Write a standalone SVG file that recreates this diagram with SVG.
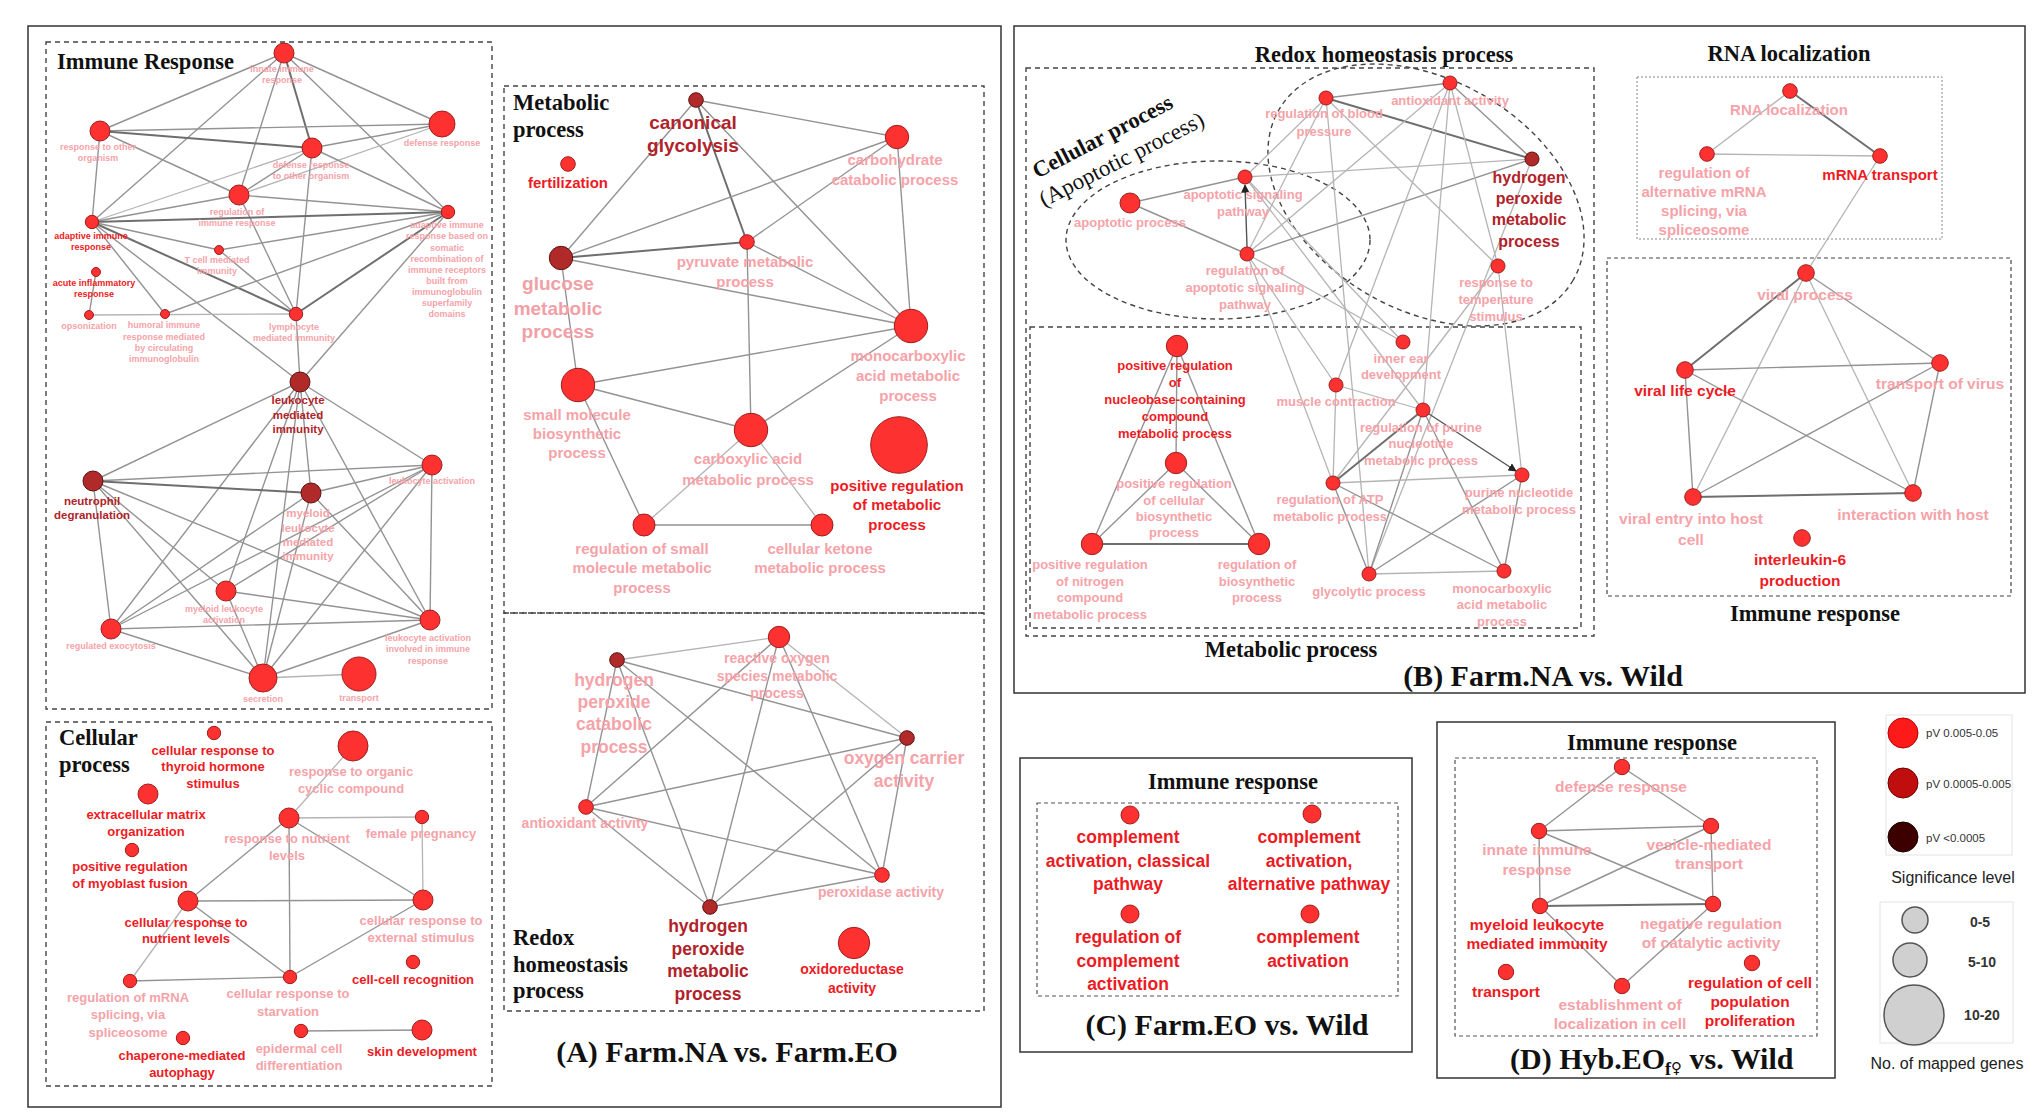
<svg xmlns="http://www.w3.org/2000/svg" width="2034" height="1117" viewBox="0 0 2034 1117">
<style>
text{font-family:"Liberation Sans",Arial,sans-serif;font-weight:bold;text-anchor:middle;dominant-baseline:central}
.t{font-family:"Liberation Serif","Times New Roman",serif;font-weight:bold;fill:#111;dominant-baseline:auto}
.ts{text-anchor:start}
.tn{font-weight:normal}
.lp{fill:#f5a3a9}.lr{fill:#ec1b24}.ld{fill:#b1232a}
.n{fill:#fe3131;stroke:#9e1e1e;stroke-width:1}
.d{fill:#b02a2a;stroke:#5c1212;stroke-width:1}
#connectors line{stroke:#939393;stroke-width:1.4}
#connectors line.k{stroke:#6e6e6e;stroke-width:2}
#connectors line.l{stroke:#b4b4b4;stroke-width:1.3}
.box{fill:none;stroke:#333;stroke-width:1.5}
.dash{fill:none;stroke:#444;stroke-width:1.4;stroke-dasharray:5 4}
.dot{fill:none;stroke:#888;stroke-width:1;stroke-dasharray:2 2}
.lg{font-family:"Liberation Sans",Arial,sans-serif;font-weight:normal;fill:#333;text-anchor:start}
.lgc{font-family:"Liberation Sans",Arial,sans-serif;font-weight:normal;fill:#222;text-anchor:middle}
.lgb{font-family:"Liberation Sans",Arial,sans-serif;font-weight:bold;fill:#333;text-anchor:middle}
.f9{font-size:9px}.f11{font-size:11.5px}.f13{font-size:13px}.f14{font-size:14px}.f15{font-size:15px}.f155{font-size:15.5px}.f16{font-size:16px}.f175{font-size:17.5px}.f19{font-size:19px}
</style>
<defs>
<marker id="arr" viewBox="0 0 10 10" refX="9" refY="5" markerWidth="6" markerHeight="6" orient="auto"><path d="M0,0 L10,5 L0,10 z" fill="#222"/></marker>
</defs>
<rect width="2034" height="1117" fill="#fff"/>

<g id="frames">
<rect class="box" x="28" y="26" width="973" height="1081"/>
<rect class="box" x="1014" y="26" width="1011" height="667"/>
<rect class="box" x="1020" y="758" width="392" height="294"/>
<rect class="box" x="1437" y="722" width="398" height="356"/>
<rect class="dash" x="46" y="42" width="446" height="667"/>
<rect class="dash" x="46" y="722" width="446" height="364"/>
<rect class="dash" x="504" y="86" width="480" height="527"/>
<rect class="dash" x="504" y="613" width="480" height="398"/>
<rect class="dash" x="1026" y="68" width="568" height="568"/>
<rect class="dash" x="1030" y="327" width="551" height="301"/>
<rect class="dot" x="1637" y="77" width="305" height="162"/>
<rect class="dash" x="1607" y="258" width="404" height="338" style="stroke-dasharray:4 3;stroke-width:1.2"/>
<rect class="dash" x="1037" y="803" width="361" height="193" style="stroke-dasharray:4 3;stroke-width:1.2;stroke:#555"/>
<rect class="dash" x="1455" y="758" width="362" height="278" style="stroke-dasharray:4 3;stroke-width:1.2;stroke:#555"/>
<ellipse class="dash" cx="1218" cy="240" rx="152" ry="79"/>
<ellipse class="dash" cx="1426" cy="195" rx="170" ry="115" transform="rotate(30 1426 195)"/>
<rect x="1886" y="715" width="126" height="140" fill="none" stroke="#e4e4e4"/>
<rect x="1880" y="902" width="133" height="141" fill="none" stroke="#e4e4e4"/>
</g>

<g id="titles">
<text class="t ts" x="57" y="69" font-size="22.5">Immune Response</text>
<text class="t ts" x="59" y="745" font-size="22.5">Cellular<tspan x="59" y="772">process</tspan></text>
<text class="t ts" x="513" y="110" font-size="22.5">Metabolic<tspan x="513" y="137">process</tspan></text>
<text class="t ts" x="513" y="945" font-size="22.5">Redox<tspan x="513" y="972">homeostasis</tspan><tspan x="513" y="998">process</tspan></text>
<text class="t" x="727" y="1062" font-size="30">(A) Farm.NA vs. Farm.EO</text>
<text class="t" x="1384" y="62" font-size="22.5">Redox homeostasis process</text>
<text class="t" x="1291" y="657" font-size="22.5">Metabolic process</text>
<text class="t" x="1789" y="61" font-size="22.5">RNA localization</text>
<text class="t" x="1815" y="621" font-size="22.5">Immune response</text>
<text class="t" x="1543" y="686" font-size="30">(B) Farm.NA vs. Wild</text>
<text class="t" x="1106" y="143" font-size="22.5" transform="rotate(-27.5 1106 143)">Cellular process</text>
<text class="t tn" x="1125" y="166" font-size="23" transform="rotate(-27 1125 166)">(Apoptotic process)</text>
<text class="t" x="1233" y="789" font-size="22.5">Immune response</text>
<text class="t" x="1227" y="1035" font-size="30">(C) Farm.EO vs. Wild</text>
<text class="t" x="1652" y="750" font-size="22.5">Immune response</text>
<text class="t ts" x="1510" y="1069" font-size="30">(D) Hyb.EO<tspan font-size="18" dy="6">f</tspan><tspan font-size="15" font-family="DejaVu Sans" font-weight="normal" dy="-2">♀</tspan><tspan font-size="30" dy="-4"> vs. Wild</tspan></text>
</g>

<g id="connectors">
<line x1="284" y1="53" x2="100" y2="131"/>
<line x1="284" y1="53" x2="442" y2="124"/>
<line class="k" x1="284" y1="53" x2="312" y2="148"/>
<line x1="284" y1="53" x2="239" y2="195"/>
<line x1="284" y1="53" x2="92" y2="222"/>
<line x1="284" y1="53" x2="448" y2="212"/>
<line x1="100" y1="131" x2="442" y2="124"/>
<line class="k" x1="100" y1="131" x2="312" y2="148"/>
<line x1="100" y1="131" x2="239" y2="195"/>
<line x1="100" y1="131" x2="92" y2="222"/>
<line x1="442" y1="124" x2="312" y2="148"/>
<line class="l" x1="442" y1="124" x2="239" y2="195"/>
<line x1="312" y1="148" x2="239" y2="195"/>
<line class="l" x1="312" y1="148" x2="92" y2="222"/>
<line x1="312" y1="148" x2="448" y2="212"/>
<line x1="312" y1="148" x2="296" y2="314"/>
<line x1="239" y1="195" x2="92" y2="222"/>
<line x1="239" y1="195" x2="448" y2="212"/>
<line x1="239" y1="195" x2="296" y2="314"/>
<line class="k" x1="92" y1="222" x2="448" y2="212"/>
<line x1="92" y1="222" x2="219" y2="250"/>
<line class="k" x1="92" y1="222" x2="296" y2="314"/>
<line x1="92" y1="222" x2="165" y2="314"/>
<line x1="92" y1="222" x2="300" y2="382"/>
<line x1="219" y1="250" x2="448" y2="212"/>
<line x1="219" y1="250" x2="296" y2="314"/>
<line class="k" x1="448" y1="212" x2="296" y2="314"/>
<line x1="448" y1="212" x2="165" y2="314"/>
<line x1="448" y1="212" x2="300" y2="382"/>
<line x1="89" y1="315" x2="96" y2="272"/>
<line class="l" x1="89" y1="315" x2="296" y2="314"/>
<line x1="296" y1="314" x2="300" y2="382"/>
<line x1="300" y1="382" x2="93" y2="481"/>
<line x1="300" y1="382" x2="432" y2="465"/>
<line x1="300" y1="382" x2="311" y2="493"/>
<line x1="300" y1="382" x2="226" y2="591"/>
<line x1="300" y1="382" x2="111" y2="629"/>
<line x1="300" y1="382" x2="263" y2="678"/>
<line x1="300" y1="382" x2="430" y2="620"/>
<line x1="93" y1="481" x2="432" y2="465"/>
<line class="k" x1="93" y1="481" x2="311" y2="493"/>
<line x1="93" y1="481" x2="111" y2="629"/>
<line x1="93" y1="481" x2="226" y2="591"/>
<line x1="93" y1="481" x2="263" y2="678"/>
<line x1="93" y1="481" x2="430" y2="620"/>
<line x1="432" y1="465" x2="311" y2="493"/>
<line x1="432" y1="465" x2="226" y2="591"/>
<line x1="432" y1="465" x2="111" y2="629"/>
<line x1="432" y1="465" x2="430" y2="620"/>
<line x1="432" y1="465" x2="263" y2="678"/>
<line x1="311" y1="493" x2="111" y2="629"/>
<line x1="311" y1="493" x2="430" y2="620"/>
<line x1="311" y1="493" x2="263" y2="678"/>
<line x1="226" y1="591" x2="430" y2="620"/>
<line x1="226" y1="591" x2="263" y2="678"/>
<line x1="111" y1="629" x2="430" y2="620"/>
<line x1="111" y1="629" x2="263" y2="678"/>
<line x1="430" y1="620" x2="263" y2="678"/>
<line class="l" x1="263" y1="678" x2="359" y2="674"/>

<line class="l" x1="353" y1="746" x2="289" y2="818"/>
<line class="l" x1="289" y1="818" x2="422" y2="817"/>
<line x1="289" y1="818" x2="188" y2="901"/>
<line x1="289" y1="818" x2="423" y2="900"/>
<line x1="289" y1="818" x2="290" y2="977"/>
<line class="l" x1="422" y1="817" x2="423" y2="900"/>
<line x1="188" y1="901" x2="423" y2="900"/>
<line x1="188" y1="901" x2="290" y2="977"/>
<line class="l" x1="188" y1="901" x2="130" y2="981"/>
<line x1="130" y1="981" x2="290" y2="977"/>
<line x1="290" y1="977" x2="423" y2="900"/>
<line x1="301" y1="1031" x2="422" y2="1030"/>

<line x1="696" y1="100" x2="897" y2="137"/>
<line x1="696" y1="100" x2="561" y2="258"/>
<line class="k" x1="696" y1="100" x2="747" y2="242"/>
<line x1="696" y1="100" x2="911" y2="326"/>
<line x1="561" y1="258" x2="897" y2="137"/>
<line class="k" x1="561" y1="258" x2="747" y2="242"/>
<line x1="561" y1="258" x2="911" y2="326"/>
<line x1="561" y1="258" x2="578" y2="385"/>
<line x1="747" y1="242" x2="897" y2="137"/>
<line x1="747" y1="242" x2="911" y2="326"/>
<line x1="747" y1="242" x2="751" y2="430"/>
<line x1="897" y1="137" x2="911" y2="326"/>
<line x1="578" y1="385" x2="911" y2="326"/>
<line x1="578" y1="385" x2="751" y2="430"/>
<line x1="578" y1="385" x2="644" y2="525"/>
<line x1="751" y1="430" x2="911" y2="326"/>
<line class="l" x1="751" y1="430" x2="644" y2="525"/>
<line class="l" x1="751" y1="430" x2="822" y2="525"/>
<line x1="644" y1="525" x2="822" y2="525"/>

<line class="l" x1="617" y1="660" x2="779" y2="637"/>
<line x1="617" y1="660" x2="907" y2="738"/>
<line x1="617" y1="660" x2="586" y2="807"/>
<line x1="617" y1="660" x2="882" y2="875"/>
<line x1="617" y1="660" x2="710" y2="907"/>
<line class="l" x1="779" y1="637" x2="907" y2="738"/>
<line x1="779" y1="637" x2="586" y2="807"/>
<line x1="779" y1="637" x2="882" y2="875"/>
<line x1="779" y1="637" x2="710" y2="907"/>
<line x1="907" y1="738" x2="586" y2="807"/>
<line x1="907" y1="738" x2="882" y2="875"/>
<line x1="907" y1="738" x2="710" y2="907"/>
<line x1="586" y1="807" x2="882" y2="875"/>
<line x1="586" y1="807" x2="710" y2="907"/>
<line x1="882" y1="875" x2="710" y2="907"/>

<line x1="1326" y1="98" x2="1450" y2="83"/>
<line class="k" x1="1326" y1="98" x2="1532" y2="159"/>
<line x1="1450" y1="83" x2="1532" y2="159"/>
<line x1="1130" y1="203" x2="1245" y2="177"/>
<line x1="1130" y1="203" x2="1247" y2="254"/>
<line x1="1247" y1="247" x2="1245" y2="185" style="stroke:#555" marker-end="url(#arr)"/>
<line class="l" x1="1245" y1="177" x2="1532" y2="159"/>
<line class="l" x1="1245" y1="177" x2="1326" y2="98"/>
<line class="l" x1="1245" y1="177" x2="1403" y2="342"/>
<line class="l" x1="1245" y1="177" x2="1423" y2="410"/>
<line x1="1247" y1="254" x2="1532" y2="159"/>
<line class="l" x1="1247" y1="254" x2="1326" y2="98"/>
<line class="l" x1="1247" y1="254" x2="1450" y2="83"/>
<line class="l" x1="1247" y1="254" x2="1403" y2="342"/>
<line class="l" x1="1247" y1="254" x2="1336" y2="385"/>
<line class="l" x1="1247" y1="254" x2="1333" y2="483"/>
<line class="l" x1="1326" y1="98" x2="1498" y2="266"/>
<line class="l" x1="1326" y1="98" x2="1369" y2="574"/>
<line class="l" x1="1450" y1="83" x2="1498" y2="266"/>
<line class="l" x1="1450" y1="83" x2="1336" y2="385"/>
<line class="l" x1="1450" y1="83" x2="1423" y2="410"/>
<line class="l" x1="1532" y1="159" x2="1369" y2="574"/>
<line class="l" x1="1498" y1="266" x2="1522" y2="475"/>
<line class="l" x1="1498" y1="266" x2="1333" y2="483"/>
<line class="l" x1="1336" y1="385" x2="1333" y2="483"/>
<line class="l" x1="1336" y1="385" x2="1423" y2="410"/>
<line x1="1423" y1="410" x2="1516" y2="471" style="stroke:#555" marker-end="url(#arr)"/>
<line class="k" x1="1423" y1="410" x2="1333" y2="483"/>
<line x1="1423" y1="410" x2="1369" y2="574"/>
<line x1="1423" y1="410" x2="1504" y2="571"/>
<line class="l" x1="1333" y1="483" x2="1522" y2="475"/>
<line x1="1333" y1="483" x2="1369" y2="574"/>
<line x1="1333" y1="483" x2="1504" y2="571"/>
<line class="l" x1="1369" y1="574" x2="1504" y2="571"/>
<line x1="1369" y1="574" x2="1522" y2="475"/>
<line x1="1522" y1="475" x2="1504" y2="571"/>
<line x1="1177" y1="346" x2="1092" y2="544"/>
<line x1="1177" y1="346" x2="1259" y2="544"/>
<line x1="1177" y1="346" x2="1176" y2="463"/>
<line x1="1176" y1="463" x2="1092" y2="544"/>
<line x1="1176" y1="463" x2="1259" y2="544"/>
<line class="k" x1="1092" y1="544" x2="1259" y2="544"/>

<line class="l" x1="1790" y1="91" x2="1707" y2="154"/>
<line class="k" x1="1790" y1="91" x2="1880" y2="156"/>
<line class="l" x1="1707" y1="154" x2="1880" y2="156"/>
<line class="l" x1="1880" y1="156" x2="1806" y2="273"/>
<line class="k" x1="1806" y1="273" x2="1685" y2="370"/>
<line x1="1806" y1="273" x2="1940" y2="363"/>
<line class="l" x1="1806" y1="273" x2="1693" y2="497"/>
<line class="l" x1="1806" y1="273" x2="1913" y2="493"/>
<line x1="1685" y1="370" x2="1940" y2="363"/>
<line x1="1685" y1="370" x2="1693" y2="497"/>
<line x1="1685" y1="370" x2="1913" y2="493"/>
<line x1="1940" y1="363" x2="1693" y2="497"/>
<line x1="1940" y1="363" x2="1913" y2="493"/>
<line class="k" x1="1693" y1="497" x2="1913" y2="493"/>

<line x1="1622" y1="767" x2="1539" y2="831"/>
<line x1="1622" y1="767" x2="1711" y2="826"/>
<line x1="1539" y1="831" x2="1711" y2="826"/>
<line x1="1539" y1="831" x2="1540" y2="906"/>
<line x1="1539" y1="831" x2="1713" y2="904"/>
<line x1="1711" y1="826" x2="1540" y2="906"/>
<line x1="1711" y1="826" x2="1713" y2="904"/>
<line class="k" x1="1540" y1="906" x2="1713" y2="904"/>
<line x1="1540" y1="906" x2="1622" y2="986"/>
<line x1="1713" y1="904" x2="1622" y2="986"/>
</g>

<g id="n-innate"><circle class="n" cx="284" cy="53" r="10"/><text class="lp f9"><tspan x="282" y="69">innate immune</tspan><tspan x="282" y="80">response</tspan></text></g>
<g id="n-rtoo"><circle class="n" cx="100" cy="131" r="10"/><text class="lp f9"><tspan x="98" y="147">response to other</tspan><tspan x="98" y="158">organism</tspan></text></g>
<g id="n-defr"><circle class="n" cx="442" cy="124" r="13"/><text class="lp f9" x="442" y="143">defense response</text></g>
<g id="n-droo"><circle class="n" cx="312" cy="148" r="10"/><text class="lp f9"><tspan x="311" y="165">defense response</tspan><tspan x="311" y="176">to other organism</tspan></text></g>
<g id="n-regimm"><circle class="n" cx="239" cy="195" r="10"/><text class="lp f9"><tspan x="237" y="212">regulation of</tspan><tspan x="237" y="223">immune response</tspan></text></g>
<g id="n-adapt"><circle class="n" cx="92" cy="222" r="6.7"/><text class="lr f9"><tspan x="91" y="236">adaptive immune</tspan><tspan x="91" y="247">response</tspan></text></g>
<g id="n-adaptsom"><circle class="n" cx="448" cy="212" r="6.7"/><text class="lp f9"><tspan x="447" y="225">adaptive immune</tspan><tspan x="447" y="236">response based on</tspan><tspan x="447" y="247.5">somatic</tspan><tspan x="447" y="258.5">recombination of</tspan><tspan x="447" y="269.5">immune receptors</tspan><tspan x="447" y="280.5">built from</tspan><tspan x="447" y="292">immunoglobulin</tspan><tspan x="447" y="303">superfamily</tspan><tspan x="447" y="314">domains</tspan></text></g>
<g id="n-tcell"><circle class="n" cx="219" cy="250" r="4.5"/><text class="lp f9"><tspan x="217" y="260">T cell mediated</tspan><tspan x="217" y="271">immunity</tspan></text></g>
<g id="n-acute"><circle class="n" cx="96" cy="272" r="4.5"/><text class="lr f9"><tspan x="94" y="283">acute inflammatory</tspan><tspan x="94" y="294">response</tspan></text></g>
<g id="n-opson"><circle class="n" cx="89" cy="315" r="4.5"/><text class="lp f9" x="89" y="326">opsonization</text></g>
<g id="n-humoral"><circle class="n" cx="165" cy="314" r="4.5"/><text class="lp f9"><tspan x="164" y="325">humoral immune</tspan><tspan x="164" y="336.5">response mediated</tspan><tspan x="164" y="347.5">by circulating</tspan><tspan x="164" y="359">immunoglobulin</tspan></text></g>
<g id="n-lympho"><circle class="n" cx="296" cy="314" r="6.7"/><text class="lp f9"><tspan x="294" y="327">lymphocyte</tspan><tspan x="294" y="338">mediated immunity</tspan></text></g>
<g id="n-leukmed"><circle class="d" cx="300" cy="382" r="10"/><text class="ld f11"><tspan x="298" y="400">leukocyte</tspan><tspan x="298" y="414.5">mediated</tspan><tspan x="298" y="429">immunity</tspan></text></g>
<g id="n-neutro"><circle class="d" cx="93" cy="481" r="10"/><text class="ld f11"><tspan x="92" y="501">neutrophil</tspan><tspan x="92" y="515">degranulation</tspan></text></g>
<g id="n-leukact"><circle class="n" cx="432" cy="465" r="10"/><text class="lp f9" x="432" y="481">leukocyte activation</text></g>
<g id="n-myeloidlm"><circle class="d" cx="311" cy="493" r="10"/><text class="lp f11"><tspan x="308" y="513">myeloid</tspan><tspan x="308" y="527.5">leukocyte</tspan><tspan x="308" y="542">mediated</tspan><tspan x="308" y="556">immunity</tspan></text></g>
<g id="n-myeloidact"><circle class="n" cx="226" cy="591" r="10"/><text class="lp f9"><tspan x="224" y="609">myeloid leukocyte</tspan><tspan x="224" y="620">activation</tspan></text></g>
<g id="n-regexo"><circle class="n" cx="111" cy="629" r="10"/><text class="lp f9" x="111" y="646">regulated exocytosis</text></g>
<g id="n-leukinv"><circle class="n" cx="430" cy="620" r="10"/><text class="lp f9"><tspan x="428" y="638">leukocyte activation</tspan><tspan x="428" y="649">involved in immune</tspan><tspan x="428" y="661">response</tspan></text></g>
<g id="n-secretion"><circle class="n" cx="263" cy="678" r="14"/><text class="lp f9" x="263" y="699">secretion</text></g>
<g id="n-transport"><circle class="n" cx="359" cy="674" r="17"/><text class="lp f9" x="359" y="698">transport</text></g>

<g id="n-thyroid"><circle class="n" cx="214" cy="733" r="6.7"/><text class="lr f13"><tspan x="213" y="750">cellular response to</tspan><tspan x="213" y="766">thyroid hormone</tspan><tspan x="213" y="783">stimulus</tspan></text></g>
<g id="n-organic"><circle class="n" cx="353" cy="746" r="15"/><text class="lp f13"><tspan x="351" y="771">response to organic</tspan><tspan x="351" y="788">cyclic compound</tspan></text></g>
<g id="n-ecm"><circle class="n" cx="148" cy="794" r="10"/><text class="lr f13"><tspan x="146" y="814">extracellular matrix</tspan><tspan x="146" y="831">organization</tspan></text></g>
<g id="n-myoblast"><circle class="n" cx="132" cy="850" r="6.7"/><text class="lr f13"><tspan x="130" y="866">positive regulation</tspan><tspan x="130" y="883">of myoblast fusion</tspan></text></g>
<g id="n-respnut"><circle class="n" cx="289" cy="818" r="10"/><text class="lp f13"><tspan x="287" y="838">response to nutrient</tspan><tspan x="287" y="855">levels</tspan></text></g>
<g id="n-female"><circle class="n" cx="422" cy="817" r="6.7"/><text class="lp f13" x="421" y="833">female pregnancy</text></g>
<g id="n-cellnut"><circle class="n" cx="188" cy="901" r="10"/><text class="lr f13"><tspan x="186" y="922">cellular response to</tspan><tspan x="186" y="938">nutrient levels</tspan></text></g>
<g id="n-extstim"><circle class="n" cx="423" cy="900" r="10"/><text class="lp f13"><tspan x="421" y="920">cellular response to</tspan><tspan x="421" y="937">external stimulus</tspan></text></g>
<g id="n-mrnasplice"><circle class="n" cx="130" cy="981" r="6.7"/><text class="lp f13"><tspan x="128" y="997">regulation of mRNA</tspan><tspan x="128" y="1014">splicing, via</tspan><tspan x="128" y="1032">spliceosome</tspan></text></g>
<g id="n-starv"><circle class="n" cx="290" cy="977" r="6.7"/><text class="lp f13"><tspan x="288" y="993">cellular response to</tspan><tspan x="288" y="1011">starvation</tspan></text></g>
<g id="n-cellcell"><circle class="n" cx="413" cy="962" r="6.7"/><text class="lr f13" x="413" y="979">cell-cell recognition</text></g>
<g id="n-chaperone"><circle class="n" cx="183" cy="1038" r="6.7"/><text class="lr f13"><tspan x="182" y="1055">chaperone-mediated</tspan><tspan x="182" y="1072">autophagy</tspan></text></g>
<g id="n-epidermal"><circle class="n" cx="301" cy="1031" r="6.7"/><text class="lp f13"><tspan x="299" y="1048">epidermal cell</tspan><tspan x="299" y="1065">differentiation</tspan></text></g>
<g id="n-skin"><circle class="n" cx="422" cy="1030" r="10"/><text class="lr f13" x="422" y="1051">skin development</text></g>

<g id="n-canon"><circle class="d" cx="696" cy="100" r="7.3"/><text class="ld f19"><tspan x="693" y="122">canonical</tspan><tspan x="693" y="145">glycolysis</tspan></text></g>
<g id="n-fert"><circle class="n" cx="568" cy="164" r="7.3"/><text class="lr f15" x="568" y="182">fertilization</text></g>
<g id="n-carbo"><circle class="n" cx="897" cy="137" r="11.7"/><text class="lp f15"><tspan x="895" y="159">carbohydrate</tspan><tspan x="895" y="179">catabolic process</tspan></text></g>
<g id="n-pyruv"><circle class="n" cx="747" cy="242" r="7.3"/><text class="lp f15"><tspan x="745" y="260.5">pyruvate metabolic</tspan><tspan x="745" y="280.5">process</tspan></text></g>
<g id="n-glucose"><circle class="d" cx="561" cy="258" r="11.7"/><text class="lp f19" style="fill:#f0a0a6"><tspan x="558" y="283">glucose</tspan><tspan x="558" y="307.5">metabolic</tspan><tspan x="558" y="331">process</tspan></text></g>
<g id="n-monocarb"><circle class="n" cx="911" cy="326" r="16.7"/><text class="lp f15"><tspan x="908" y="355">monocarboxylic</tspan><tspan x="908" y="374.5">acid metabolic</tspan><tspan x="908" y="394.5">process</tspan></text></g>
<g id="n-smallmol"><circle class="n" cx="578" cy="385" r="16.7"/><text class="lp f15"><tspan x="577" y="414">small molecule</tspan><tspan x="577" y="433">biosynthetic</tspan><tspan x="577" y="452">process</tspan></text></g>
<g id="n-carboxy"><circle class="n" cx="751" cy="430" r="16.7"/><text class="lp f15"><tspan x="748" y="458">carboxylic acid</tspan><tspan x="748" y="479">metabolic process</tspan></text></g>
<g id="n-posmet"><circle class="n" cx="899" cy="445" r="28.3"/><text class="lr f15"><tspan x="897" y="485">positive regulation</tspan><tspan x="897" y="504">of metabolic</tspan><tspan x="897" y="524">process</tspan></text></g>
<g id="n-regsmall"><circle class="n" cx="644" cy="525" r="11"/><text class="lp f15"><tspan x="642" y="548">regulation of small</tspan><tspan x="642" y="567">molecule metabolic</tspan><tspan x="642" y="587">process</tspan></text></g>
<g id="n-ketone"><circle class="n" cx="822" cy="525" r="11"/><text class="lp f15"><tspan x="820" y="548">cellular ketone</tspan><tspan x="820" y="567">metabolic process</tspan></text></g>

<g id="n-hpc"><circle class="d" cx="617" cy="660" r="7.3"/><text class="lp f175"><tspan x="614" y="680">hydrogen</tspan><tspan x="614" y="702">peroxide</tspan><tspan x="614" y="724">catabolic</tspan><tspan x="614" y="747">process</tspan></text></g>
<g id="n-ros"><circle class="n" cx="779" cy="637" r="10.7"/><text class="lp f14"><tspan x="777" y="658">reactive oxygen</tspan><tspan x="777" y="676">species metabolic</tspan><tspan x="777" y="693">process</tspan></text></g>
<g id="n-oxy"><circle class="d" cx="907" cy="738" r="7.3"/><text class="lp f175"><tspan x="904" y="758">oxygen carrier</tspan><tspan x="904" y="781">activity</tspan></text></g>
<g id="n-antiox"><circle class="n" cx="586" cy="807" r="7.3"/><text class="lp f14" x="585" y="823">antioxidant activity</text></g>
<g id="n-perox"><circle class="n" cx="882" cy="875" r="7.3"/><text class="lp f14" x="881" y="892">peroxidase activity</text></g>
<g id="n-h2o2"><circle class="d" cx="710" cy="907" r="7.3"/><text class="ld f175"><tspan x="708" y="926">hydrogen</tspan><tspan x="708" y="949">peroxide</tspan><tspan x="708" y="971">metabolic</tspan><tspan x="708" y="994">process</tspan></text></g>
<g id="n-oxidored"><circle class="n" cx="854" cy="943" r="15.7"/><text class="lr f14"><tspan x="852" y="969">oxidoreductase</tspan><tspan x="852" y="988">activity</tspan></text></g>

<g id="n-bp"><circle class="n" cx="1326" cy="98" r="7"/><text class="lp f13"><tspan x="1324" y="113">regulation of blood</tspan><tspan x="1324" y="131">pressure</tspan></text></g>
<g id="n-antioxB"><circle class="n" cx="1450" cy="83" r="7"/><text class="lp f13" x="1450" y="100">antioxidant activity</text></g>
<g id="n-h2o2B"><circle class="d" cx="1532" cy="159" r="7"/><text class="ld f16"><tspan x="1529" y="177">hydrogen</tspan><tspan x="1529" y="198">peroxide</tspan><tspan x="1529" y="219">metabolic</tspan><tspan x="1529" y="241">process</tspan></text></g>
<g id="n-apsig"><circle class="n" cx="1245" cy="177" r="7"/><text class="lp f13"><tspan x="1243" y="194">apoptotic signaling</tspan><tspan x="1243" y="211">pathway</tspan></text></g>
<g id="n-apop"><circle class="n" cx="1130" cy="203" r="10"/><text class="lp f13" x="1130" y="222">apoptotic process</text></g>
<g id="n-regapop"><circle class="n" cx="1247" cy="254" r="7"/><text class="lp f13"><tspan x="1245" y="270">regulation of</tspan><tspan x="1245" y="287">apoptotic signaling</tspan><tspan x="1245" y="304">pathway</tspan></text></g>
<g id="n-resptemp"><circle class="n" cx="1498" cy="266" r="7"/><text class="lp f13"><tspan x="1496" y="282">response to</tspan><tspan x="1496" y="299">temperature</tspan><tspan x="1496" y="316">stimulus</tspan></text></g>
<g id="n-innerear"><circle class="n" cx="1403" cy="342" r="7"/><text class="lp f13"><tspan x="1401" y="358">inner ear</tspan><tspan x="1401" y="374">development</tspan></text></g>
<g id="n-posnuc"><circle class="n" cx="1177" cy="346" r="10.7"/><text class="lr f13"><tspan x="1175" y="365">positive regulation</tspan><tspan x="1175" y="382">of</tspan><tspan x="1175" y="399">nucleobase-containing</tspan><tspan x="1175" y="416">compound</tspan><tspan x="1175" y="433">metabolic process</tspan></text></g>
<g id="n-poscell"><circle class="n" cx="1176" cy="463" r="10.7"/><text class="lp f13"><tspan x="1174" y="483">positive regulation</tspan><tspan x="1174" y="500">of cellular</tspan><tspan x="1174" y="516">biosynthetic</tspan><tspan x="1174" y="532">process</tspan></text></g>
<g id="n-posnit"><circle class="n" cx="1092" cy="544" r="10.7"/><text class="lp f13"><tspan x="1090" y="564">positive regulation</tspan><tspan x="1090" y="581">of nitrogen</tspan><tspan x="1090" y="597">compound</tspan><tspan x="1090" y="614">metabolic process</tspan></text></g>
<g id="n-regbio"><circle class="n" cx="1259" cy="544" r="10.7"/><text class="lp f13"><tspan x="1257" y="564">regulation of</tspan><tspan x="1257" y="581">biosynthetic</tspan><tspan x="1257" y="597">process</tspan></text></g>
<g id="n-muscle"><circle class="n" cx="1336" cy="385" r="7"/><text class="lp f13" x="1336" y="401">muscle contraction</text></g>
<g id="n-regpur"><circle class="n" cx="1423" cy="410" r="7"/><text class="lp f13"><tspan x="1421" y="427">regulation of purine</tspan><tspan x="1421" y="443">nucleotide</tspan><tspan x="1421" y="460">metabolic process</tspan></text></g>
<g id="n-regatp"><circle class="n" cx="1333" cy="483" r="7"/><text class="lp f13"><tspan x="1330" y="499">regulation of ATP</tspan><tspan x="1330" y="516">metabolic process</tspan></text></g>
<g id="n-purine"><circle class="n" cx="1522" cy="475" r="7"/><text class="lp f13"><tspan x="1519" y="492">purine nucleotide</tspan><tspan x="1519" y="509">metabolic process</tspan></text></g>
<g id="n-glyco"><circle class="n" cx="1369" cy="574" r="7"/><text class="lp f13" x="1369" y="591">glycolytic process</text></g>
<g id="n-monoB"><circle class="n" cx="1504" cy="571" r="7"/><text class="lp f13"><tspan x="1502" y="588">monocarboxylic</tspan><tspan x="1502" y="604">acid metabolic</tspan><tspan x="1502" y="621">process</tspan></text></g>

<g id="n-rnaloc"><circle class="n" cx="1790" cy="91" r="7.3"/><text class="lp f15" x="1789" y="109">RNA localization</text></g>
<g id="n-regalt"><circle class="n" cx="1707" cy="154" r="7.3"/><text class="lp f15"><tspan x="1704" y="172">regulation of</tspan><tspan x="1704" y="191">alternative mRNA</tspan><tspan x="1704" y="210">splicing, via</tspan><tspan x="1704" y="229">spliceosome</tspan></text></g>
<g id="n-mrnatr"><circle class="n" cx="1880" cy="156" r="7.3"/><text class="lr f15" x="1880" y="174">mRNA transport</text></g>
<g id="n-viralproc"><circle class="n" cx="1806" cy="273" r="8.3"/><text class="lp f155" x="1805" y="294">viral process</text></g>
<g id="n-vlc"><circle class="n" cx="1685" cy="370" r="8.3"/><text class="lr f155" x="1685" y="390">viral life cycle</text></g>
<g id="n-tov"><circle class="n" cx="1940" cy="363" r="8.3"/><text class="lp f155" x="1940" y="383">transport of virus</text></g>
<g id="n-ventry"><circle class="n" cx="1693" cy="497" r="8.3"/><text class="lp f155"><tspan x="1691" y="518">viral entry into host</tspan><tspan x="1691" y="539">cell</tspan></text></g>
<g id="n-inthost"><circle class="n" cx="1913" cy="493" r="8.3"/><text class="lp f155" x="1913" y="514">interaction with host</text></g>
<g id="n-il6"><circle class="n" cx="1802" cy="538" r="8.3"/><text class="lr f155"><tspan x="1800" y="559">interleukin-6</tspan><tspan x="1800" y="580">production</tspan></text></g>

<g id="n-cacp"><circle class="n" cx="1130" cy="815" r="9"/><text class="lr f175"><tspan x="1128" y="837">complement</tspan><tspan x="1128" y="861">activation, classical</tspan><tspan x="1128" y="884">pathway</tspan></text></g>
<g id="n-caap"><circle class="n" cx="1312" cy="814" r="9"/><text class="lr f175"><tspan x="1309" y="837">complement</tspan><tspan x="1309" y="861">activation,</tspan><tspan x="1309" y="884">alternative pathway</tspan></text></g>
<g id="n-rca"><circle class="n" cx="1130" cy="914" r="9"/><text class="lr f175"><tspan x="1128" y="937">regulation of</tspan><tspan x="1128" y="961">complement</tspan><tspan x="1128" y="984">activation</tspan></text></g>
<g id="n-ca"><circle class="n" cx="1310" cy="914" r="9"/><text class="lr f175"><tspan x="1308" y="937">complement</tspan><tspan x="1308" y="961">activation</tspan></text></g>

<g id="n-defD"><circle class="n" cx="1622" cy="767" r="7.7"/><text class="lp f155" x="1621" y="786">defense response</text></g>
<g id="n-innateD"><circle class="n" cx="1539" cy="831" r="7.7"/><text class="lp f155"><tspan x="1537" y="849">innate immune</tspan><tspan x="1537" y="869">response</tspan></text></g>
<g id="n-vesD"><circle class="n" cx="1711" cy="826" r="7.7"/><text class="lp f155"><tspan x="1709" y="844">vesicle-mediated</tspan><tspan x="1709" y="863">transport</tspan></text></g>
<g id="n-myeD"><circle class="n" cx="1540" cy="906" r="7.7"/><text class="lr f155"><tspan x="1537" y="924">myeloid leukocyte</tspan><tspan x="1537" y="943">mediated immunity</tspan></text></g>
<g id="n-negD"><circle class="n" cx="1713" cy="904" r="7.7"/><text class="lp f155"><tspan x="1711" y="923">negative regulation</tspan><tspan x="1711" y="942">of catalytic activity</tspan></text></g>
<g id="n-transD"><circle class="n" cx="1506" cy="972" r="7.7"/><text class="lr f155" x="1506" y="991">transport</text></g>
<g id="n-estD"><circle class="n" cx="1622" cy="986" r="7.7"/><text class="lp f155"><tspan x="1620" y="1004">establishment of</tspan><tspan x="1620" y="1023">localization in cell</tspan></text></g>
<g id="n-regcellD"><circle class="n" cx="1752" cy="963" r="7.7"/><text class="lr f155"><tspan x="1750" y="982">regulation of cell</tspan><tspan x="1750" y="1001">population</tspan><tspan x="1750" y="1020">proliferation</tspan></text></g>

<g id="legend">
<circle cx="1903" cy="733" r="15" fill="#ff1a1a" stroke="#b00000"/>
<circle cx="1903" cy="783" r="15" fill="#c00d0d" stroke="#700000"/>
<circle cx="1903" cy="837" r="15" fill="#3d0000" stroke="#1a0000"/>
<text class="lg" x="1926" y="733" font-size="11.5">pV 0.005-0.05</text>
<text class="lg" x="1926" y="784" font-size="11.5">pV 0.0005-0.005</text>
<text class="lg" x="1926" y="838" font-size="11.5">pV &lt;0.0005</text>
<text class="lgc" x="1953" y="877" font-size="16">Significance level</text>
<circle cx="1915" cy="920" r="13" fill="#d0d0d0" stroke="#555" stroke-width="1.5"/>
<circle cx="1910" cy="960" r="17" fill="#d0d0d0" stroke="#555" stroke-width="1.5"/>
<circle cx="1914" cy="1015" r="30" fill="#d0d0d0" stroke="#555" stroke-width="1.5"/>
<text class="lgb" x="1980" y="922" font-size="14">0-5</text>
<text class="lgb" x="1982" y="962" font-size="14">5-10</text>
<text class="lgb" x="1982" y="1015" font-size="14">10-20</text>
<text class="lgc" x="1947" y="1063" font-size="16">No. of mapped genes</text>
</g>
</svg>
